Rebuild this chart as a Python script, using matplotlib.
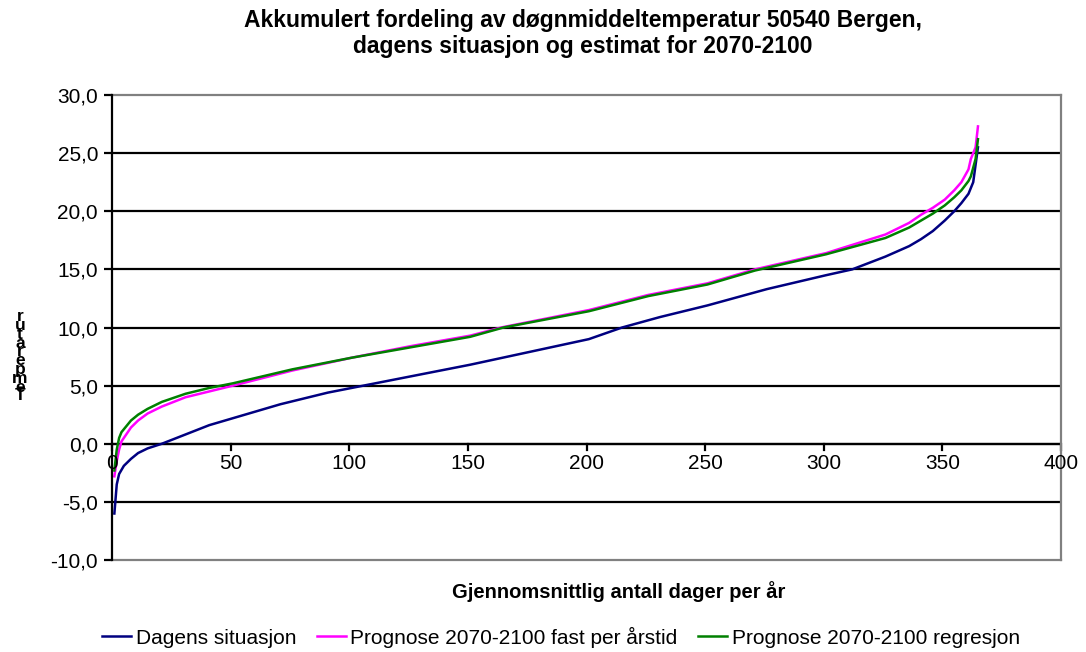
import numpy as np
import matplotlib
matplotlib.use('Agg')
import matplotlib.pyplot as plt
from matplotlib import font_manager

plt.rcParams['font.family'] = ['Liberation Sans', 'DejaVu Sans']

# pick the regular-width bold face (not the Narrow one)
bold_file = None
for f in font_manager.fontManager.ttflist:
    if f.name == 'Liberation Sans' and 'Narrow' not in f.fname \
            and f.weight in (700, 'bold') and f.style == 'normal':
        bold_file = f.fname
        break
if bold_file:
    bold = font_manager.FontProperties(fname=bold_file)
else:
    bold = font_manager.FontProperties(family='DejaVu Sans', weight='bold')

# Values (day index -> temperature).
days_dagens = [1, 2, 3, 5, 8, 11, 15, 21, 26, 31, 41, 51, 61, 71, 81, 91, 101, 126,
               151, 176, 201, 215, 231, 251, 276, 301, 312, 326, 336, 341, 346, 351,
               355, 358, 361, 363, 364, 365]
temp_dagens = [-6.0, -3.5, -2.6, -1.9, -1.3, -0.8, -0.4, 0.0, 0.4, 0.8, 1.6, 2.2, 2.8,
               3.4, 3.9, 4.4, 4.8, 5.8, 6.8, 7.9, 9.0, 10.0, 10.9, 11.9, 13.3, 14.5,
               15.0, 16.1, 17.0, 17.6, 18.3, 19.2, 20.0, 20.7, 21.5, 22.5, 24.0, 25.5]

days_fast = [1, 2, 3, 4, 6, 8, 11, 15, 21, 31, 41, 51, 76, 101, 126, 151, 164, 201,
             226, 251, 271, 301, 326, 336, 341, 346, 351, 355, 358, 361, 362, 364, 365]
temp_fast = [-2.8, -1.5, -0.5, 0.2, 0.8, 1.4, 2.0, 2.6, 3.2, 4.0, 4.5, 5.0, 6.3, 7.4,
             8.4, 9.3, 10.0, 11.5, 12.8, 13.8, 15.0, 16.4, 18.0, 19.0, 19.7, 20.3,
             21.0, 21.8, 22.5, 23.6, 24.5, 25.5, 27.3]

days_regr = [1, 2, 3, 4, 6, 8, 11, 15, 21, 31, 41, 51, 76, 101, 126, 151, 165, 201,
             226, 251, 271, 301, 326, 336, 341, 346, 351, 355, 358, 361, 362, 364, 365]
temp_regr = [-2.3, -0.5, 0.5, 1.0, 1.5, 2.0, 2.5, 3.0, 3.6, 4.3, 4.8, 5.2, 6.4, 7.4,
             8.3, 9.2, 10.0, 11.4, 12.7, 13.7, 14.9, 16.3, 17.7, 18.6, 19.2, 19.8,
             20.5, 21.2, 21.8, 22.6, 23.0, 24.5, 26.2]

series = [
    ('Dagens situasjon', days_dagens, temp_dagens, '#000080'),
    ('Prognose 2070-2100 fast per årstid', days_fast, temp_fast, '#FF00FF'),
    ('Prognose 2070-2100 regresjon', days_regr, temp_regr, '#008000'),
]

yticks = np.arange(-10, 31, 5)
xticks = np.arange(0, 401, 50)

fig = plt.figure(figsize=(10.86, 6.52), dpi=100)
ax = fig.add_axes([112 / 1086, 1 - 560 / 652, (1061 - 112) / 1086, (560 - 95) / 652])

for y in yticks[1:-1]:
    ax.axhline(y, color='black', lw=1.6, zorder=1)

for label, d, t, c in series:
    ax.plot(d, t, color=c, lw=1.8, label=label, zorder=3)

ax.set_xlim(0, 400)
ax.set_ylim(-10, 30)

ax.spines['left'].set_position(('data', 0))
ax.spines['left'].set_linewidth(1.6)
ax.spines['left'].set_zorder(4)
for s in ['top', 'right', 'bottom']:
    ax.spines[s].set_color('#808080')
    ax.spines[s].set_linewidth(1.6)

ax.set_yticks(yticks)
ax.set_yticklabels([f'{v:.1f}'.replace('.', ',') for v in yticks], fontsize=15)
ax.tick_params(axis='y', length=6, width=1.6, pad=4)

# x axis crossing at y = 0
ax.set_xticks([])
ax.axhline(0, color='black', lw=1.6, zorder=2)
for x in xticks:
    ax.plot([x, x], [0, -0.55], color='black', lw=1.6, clip_on=False, zorder=2)
    ax.text(x, -0.9, str(x), ha='center', va='top', fontsize=15)

title_fp = bold.copy()
title_fp.set_size(16.5)
fig.text(583 / 1086, 1 - 21 / 652, 'Akkumulert fordeling av døgnmiddeltemperatur 50540 Bergen,',
         ha='center', va='center', fontproperties=title_fp)
fig.text(583 / 1086, 1 - 46 / 652, 'dagens situasjon og estimat for 2070-2100',
         ha='center', va='center', fontproperties=title_fp)

xl_fp = bold.copy()
xl_fp.set_size(14.5)
fig.text(619 / 1086, 1 - 592 / 652, 'Gjennomsnittlig antall dager per år',
         ha='center', va='center', fontproperties=xl_fp)

# stacked y-axis label as in the original
yl_fp = bold.copy()
yl_fp.set_size(12.5)
for i, ch in enumerate('Temperatur'):
    fig.text(20 / 1086, 1 - (396 - i * 8.8) / 652, ch, ha='center', va='center',
             fontproperties=yl_fp)

fig.legend(loc='center', bbox_to_anchor=(561 / 1086, 1 - 637 / 652), ncol=3,
           frameon=False, fontsize=15, handlelength=1.4, handletextpad=0.2,
           columnspacing=1.0)

fig.savefig('out.png', dpi=100)
